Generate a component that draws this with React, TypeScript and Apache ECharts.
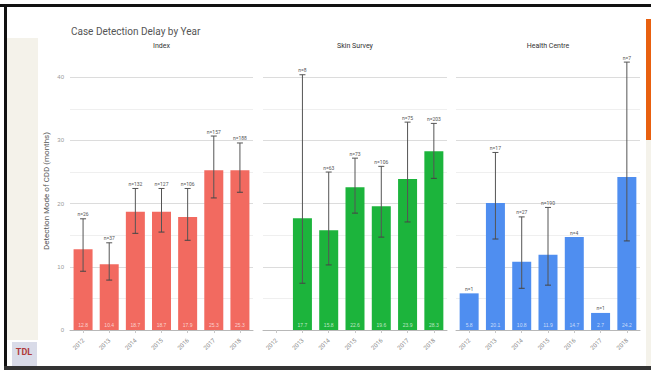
import React, { useEffect, useRef } from "react";
import * as echarts from "echarts";

const years = ["2012", "2013", "2014", "2015", "2016", "2017", "2018"];
const facetNames = ["Index", "Skin Survey", "Health Centre"];
const yTicks = [0, 10, 20, 30, 40];

const indexMedian = [12.8, 10.4, 18.7, 18.7, 17.9, 25.3, 25.3];
const indexLow = [9.3, 7.9, 15.3, 15.5, 14.2, 20.9, 21.8];
const indexHigh = [17.6, 13.8, 22.4, 22.4, 22.4, 30.7, 29.6];
const indexN = [26, 37, 132, 127, 106, 157, 188];

const skinMedian = [null, 17.7, 15.8, 22.6, 19.6, 23.9, 28.3];
const skinLow = [null, 7.4, 10.3, 18.5, 14.7, 17.1, 24.0];
const skinHigh = [null, 40.4, 25.0, 27.2, 25.9, 32.9, 32.7];
const skinN = [null, 8, 63, 73, 106, 75, 203];

const healthMedian = [5.8, 20.1, 10.8, 11.9, 14.7, 2.7, 24.2];
const healthLow = [null, 14.4, 6.6, 7.1, null, null, 14.1];
const healthHigh = [null, 28.1, 17.9, 19.4, null, null, 42.4];
const healthN = [1, 17, 27, 190, 4, 1, 7];

const colors = ["#f26a60", "#1cb43c", "#4f8ef0"];

const facets = [
  { median: indexMedian, low: indexLow, high: indexHigh, n: indexN },
  { median: skinMedian, low: skinLow, high: skinHigh, n: skinN },
  { median: healthMedian, low: healthLow, high: healthHigh, n: healthN },
];

const gridLefts = [70, 263, 456];
const gridWidths = [183, 184, 184];
const gridTop = 52;
const gridHeight = 278;
const yMax = 44;

export default function App() {
  const ref = useRef<HTMLDivElement>(null);
  useEffect(() => {
    if (!ref.current) return;
    const chart = echarts.init(ref.current, null, { renderer: "svg" });
    const splitColors = [
      "#dcdcdc", "#efefef", "#dcdcdc", "#efefef", "#dcdcdc",
      "#efefef", "#dcdcdc", "#efefef", "#dcdcdc", "rgba(0,0,0,0)",
    ];
    const grids = gridLefts.map((l, i) => ({
      left: l, top: gridTop, width: gridWidths[i], height: gridHeight,
    }));
    const xAxes = facets.map((_, i) => ({
      type: "category",
      gridIndex: i,
      data: years,
      axisLine: { show: true, lineStyle: { color: "#b8b8b8" } },
      axisTick: { show: true, alignWithLabel: true, length: 3, lineStyle: { color: "#c8c8c8" } },
      axisLabel: { rotate: 45, fontSize: 6, color: "#888", interval: 0, margin: 9, fontFamily: "Roboto" },
    }));
    const yAxes = facets.map((_, i) => ({
      type: "value",
      gridIndex: i,
      min: 0,
      max: yMax,
      interval: 5,
      name: i === 0 ? "Detection Mode of CDD (months)" : "",
      nameLocation: "middle",
      nameGap: 20,
      nameRotate: 90,
      nameTextStyle: { fontSize: 8, color: "#555", fontFamily: "Roboto" },
      axisLine: { show: false },
      axisTick: { show: false },
      axisLabel: {
        show: i === 0,
        fontSize: 6,
        color: "#999",
        margin: 6,
        formatter: (v: number) => (yTicks.includes(v) ? String(v) : ""),
      },
      splitLine: { show: true, lineStyle: { color: splitColors, width: 1 } },
    }));
    const series: any[] = [];
    facets.forEach((f, fi) => {
      series.push({
        type: "bar",
        xAxisIndex: fi,
        yAxisIndex: fi,
        data: f.median,
        barWidth: 19,
        itemStyle: { color: colors[fi] },
        label: {
          show: true,
          position: "insideBottom",
          distance: 3,
          fontSize: 5,
          color: "rgba(255,255,255,0.7)",
          formatter: (p: any) => (p.value == null ? "" : Number(p.value).toFixed(1)),
        },
      });
      series.push({
        type: "custom",
        xAxisIndex: fi,
        yAxisIndex: fi,
        data: years.map((_, i) => [i, f.median[i] == null ? 0 : f.median[i]]),
        z: 5,
        renderItem: (params: any, api: any) => {
          const i = params.dataIndex;
          const med = f.median[i];
          if (med == null) return { type: "group", children: [] };
          const lo = f.low[i];
          const hi = f.high[i];
          const children: any[] = [];
          let topY: number;
          const cx = api.coord([i, 0])[0];
          if (lo != null && hi != null) {
            const pLo = api.coord([i, lo]);
            const pHi = api.coord([i, hi]);
            topY = pHi[1];
            children.push({
              type: "line",
              shape: { x1: cx, y1: pLo[1], x2: cx, y2: pHi[1] },
              style: { stroke: "#555", lineWidth: 1 },
            });
            children.push({
              type: "line",
              shape: { x1: cx - 3, y1: pHi[1], x2: cx + 3, y2: pHi[1] },
              style: { stroke: "#555", lineWidth: 1 },
            });
            children.push({
              type: "line",
              shape: { x1: cx - 3, y1: pLo[1], x2: cx + 3, y2: pLo[1] },
              style: { stroke: "#444", lineWidth: 1 },
            });
          } else {
            topY = api.coord([i, med])[1];
          }
          children.push({
            type: "text",
            style: {
              text: "n=" + f.n[i],
              x: cx,
              y: topY - 2,
              align: "center",
              verticalAlign: "bottom",
              fontSize: 5,
              fill: "#555",
              fontFamily: "Roboto",
            },
          });
          return { type: "group", children };
        },
      });
    });

    const facetTexts = facets.map((_, i) => ({
      type: "text",
      x: gridLefts[i] + gridWidths[i] / 2,
      y: 46,
      style: {
        text: facetNames[i],
        align: "center",
        verticalAlign: "middle",
        fontSize: 7,
        fill: "#333",
        fontFamily: "Roboto",
      },
    }));

    chart.setOption({
      animation: false,
      backgroundColor: "#fff",
      title: {
        text: "Case Detection Delay by Year",
        left: 66,
        top: 21,
        textStyle: { fontSize: 10, fontWeight: "normal", color: "#555", fontFamily: "Roboto" },
      },
      grid: grids,
      xAxis: xAxes,
      yAxis: yAxes,
      series,
      graphic: [
        { type: "rect", shape: { x: 7, y: 38, width: 31, height: 302 }, style: { fill: "#f4f2ea" }, z: -10 },
        { type: "rect", shape: { x: 646, y: 140, width: 5, height: 226 }, style: { fill: "#f4f2ea" } },
        { type: "rect", shape: { x: 646, y: 19, width: 5, height: 121 }, style: { fill: "#e8600f" } },
        { type: "rect", shape: { x: 0, y: 4, width: 651, height: 3 }, style: { fill: "#111" } },
        { type: "rect", shape: { x: 4, y: 4, width: 3, height: 366 }, style: { fill: "#111" } },
        { type: "rect", shape: { x: 4, y: 366, width: 647, height: 4 }, style: { fill: "#333" } },
        { type: "rect", shape: { x: 12, y: 342, width: 25, height: 24 }, style: { fill: "#d9dbe8" } },
        {
          type: "text",
          x: 24,
          y: 352,
          style: { text: "TDL", align: "center", verticalAlign: "middle", fontSize: 9, fontWeight: "bold", fill: "#b03a3a", fontFamily: "Roboto" },
        },
        ...facetTexts,
      ],
    });
    return () => chart.dispose();
  }, []);
  return (
    <div
      ref={ref}
      style={{ position: "fixed", left: 0, top: 0, width: 651, height: 370 }}
    />
  );
}
